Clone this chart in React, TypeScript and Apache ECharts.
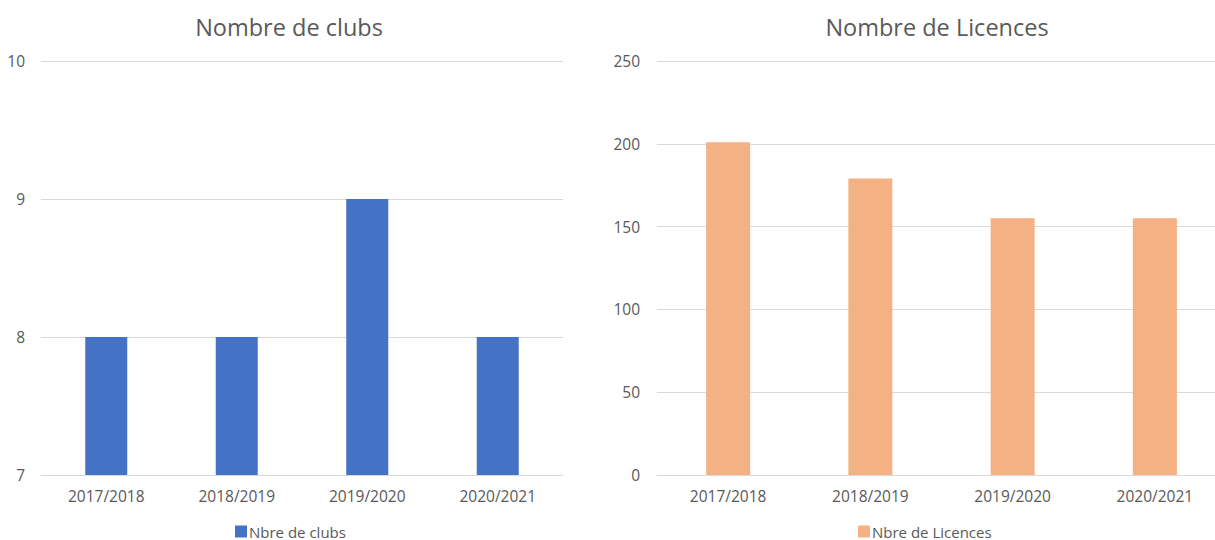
import React, { useEffect, useRef } from "react";
import * as echarts from "echarts";

const categories = ["2017/2018", "2018/2019", "2019/2020", "2020/2021"];
const clubs = [8, 8, 9, 8];
const licences = [201, 179, 155, 155];
const clubsName = "Nbre de clubs";
const licencesName = "Nbre de Licences";
const title1 = "Nombre de clubs";
const title2 = "Nombre de Licences";

const FONT = "'Open Sans', sans-serif";
const TXT = "#595959";
const GRID = "#d9d9d9";

export default function App() {
  const ref = useRef<HTMLDivElement>(null);
  useEffect(() => {
    if (!ref.current) return;
    const chart = echarts.init(ref.current, null, { renderer: "svg" });
    const xAxisBase = (gi: number) => ({
      type: "category" as const,
      gridIndex: gi,
      data: categories,
      axisTick: { show: false },
      axisLine: { lineStyle: { color: GRID, width: 1 } },
      axisLabel: { color: TXT, fontSize: 15.5, fontFamily: FONT, margin: 13 },
    });
    const legendText = { color: TXT, fontSize: 15, fontFamily: FONT, padding: [0, 0, 0, -3] };
    chart.setOption({
      animation: false,
      textStyle: { fontFamily: FONT },
      title: [
        { text: title1, left: 284, top: 10, textAlign: "center", textStyle: { color: TXT, fontSize: 23.5, fontWeight: "normal", fontFamily: FONT } },
        { text: title2, left: 932, top: 10, textAlign: "center", textStyle: { color: TXT, fontSize: 23.5, fontWeight: "normal", fontFamily: FONT } },
      ],
      legend: [
        { data: [clubsName], left: 235, top: 524, padding: 0, icon: "rect", itemWidth: 12, itemHeight: 12, textStyle: legendText },
        { data: [licencesName], left: 858, top: 524, padding: 0, icon: "rect", itemWidth: 12, itemHeight: 12, textStyle: legendText },
      ],
      grid: [
        { left: 41, top: 61, width: 522, height: 414, outerBoundsMode: "none" },
        { left: 657, top: 61, width: 569, height: 414, outerBoundsMode: "none" },
      ],
      xAxis: [xAxisBase(0), xAxisBase(1)],
      yAxis: [
        {
          type: "value", gridIndex: 0, min: 7, max: 10, interval: 1,
          axisLine: { show: false }, axisTick: { show: false },
          splitLine: { lineStyle: { color: GRID } },
          axisLabel: { color: TXT, fontSize: 15.5, fontFamily: FONT, margin: 16 },
        },
        {
          type: "value", gridIndex: 1, min: 0, max: 250, interval: 50,
          axisLine: { show: false }, axisTick: { show: false },
          splitLine: { lineStyle: { color: GRID } },
          axisLabel: { color: TXT, fontSize: 15.5, fontFamily: FONT, margin: 17 },
        },
      ],
      series: [
        { name: clubsName, type: "bar", xAxisIndex: 0, yAxisIndex: 0, data: clubs, barWidth: 42, itemStyle: { color: "#4472c4" } },
        { name: licencesName, type: "bar", xAxisIndex: 1, yAxisIndex: 1, data: licences, barWidth: 44, itemStyle: { color: "#f4b183" } },
      ],
    });
    return () => chart.dispose();
  }, []);
  return <div ref={ref} style={{ position: "absolute", left: 0, top: 0, width: 1215, height: 540 }} />;
}
